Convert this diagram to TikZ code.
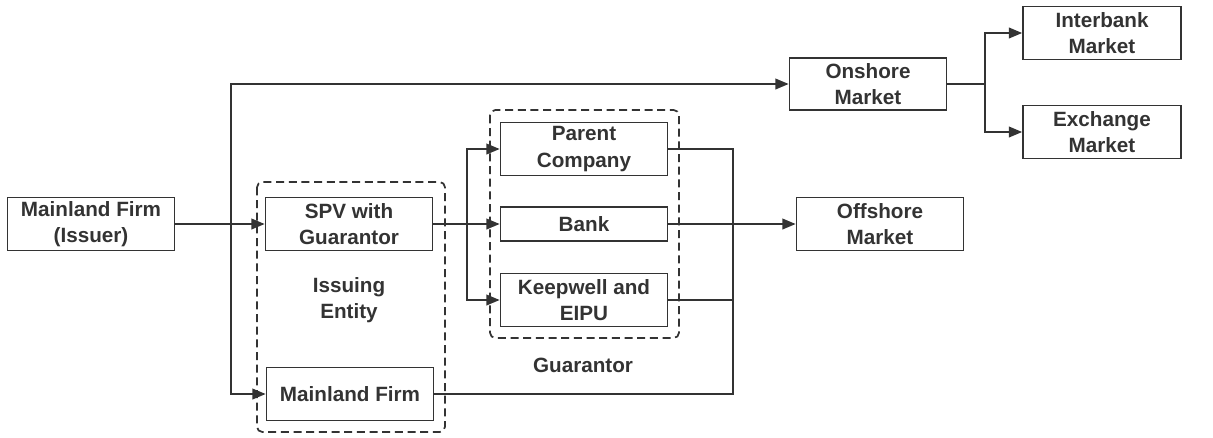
\documentclass[tikz,border=0pt]{standalone}
\usepackage{fontspec}
\setmainfont{Liberation Sans}
\usetikzlibrary{arrows.meta}
\definecolor{ink}{HTML}{333333}
\tikzset{
  box/.style={draw=ink, line width=1.25pt, fill=white, text=ink, font=\fontsize{15.5}{20}\selectfont\bfseries, align=center, inner sep=0pt, minimum width=125.25pt, minimum height=39.75pt},
  lbl/.style={text=ink, font=\fontsize{15.5}{20}\selectfont\bfseries, align=center, inner sep=0pt},
  conn/.style={draw=ink, line width=1.4pt},
  arr/.style={conn, -{Triangle[length=10pt,width=8pt]}},
  grp/.style={draw=ink, line width=1.3pt, dash pattern=on 6pt off 3.5pt, rounded corners=4pt}
}
\begin{document}
\begin{tikzpicture}[x=0.75pt, y=-0.75pt]
\useasboundingbox (0,0) rectangle (1213,437);
% group frames
\draw[grp] (257,182) rectangle (445,432);
\draw[grp] (490,110) rectangle (679,338);
% nodes
\node[box] (issuer) at (91,224) {Mainland Firm\\(Issuer)};
\node[box] (spv) at (349,224) {SPV with\\Guarantor};
\node[box] (mf) at (350,394) {Mainland Firm};
\node[lbl] (ie) at (349,300) {Issuing\\Entity};
\node[box] (parent) at (584,149) {Parent\\Company};
\node[box, minimum height=25.5pt] (bank) at (584,224) {Bank};
\node[box] (keep) at (584,300) {Keepwell and\\EIPU};
\node[lbl] (guar) at (583,365) {Guarantor};
\node[box] (offshore) at (880,224) {Offshore\\Market};
\node[box, minimum width=117.75pt, minimum height=39pt] (onshore) at (868,84) {Onshore\\Market};
\node[box, minimum width=118.5pt] (inter) at (1102,33) {Interbank\\Market};
\node[box, minimum width=118.5pt] (exch) at (1102,132) {Exchange\\Market};
% junctions
\coordinate (j1) at (231,224);
\coordinate (j2) at (467,224);
\coordinate (j3) at (733,224);
\coordinate (j4) at (985,84);
% connectors
\draw[arr] (issuer.east) -- (spv.west);
\draw[arr] (j1) |- (onshore.west);
\draw[arr] (j1) |- (mf.west);
\draw[arr] (spv.east) -- (bank.west);
\draw[arr] (j2) |- (parent.west);
\draw[arr] (j2) |- (keep.west);
\draw[conn] (parent.east) -| (j3);
\draw[conn] (keep.east) -| (j3);
\draw[conn] (mf.east) -| (j3);
\draw[arr] (bank.east) -- (offshore.west);
\draw[conn] (onshore.east) -- (j4);
\draw[arr] (j4) |- (inter.west);
\draw[arr] (j4) |- (exch.west);
\end{tikzpicture}
\end{document}
